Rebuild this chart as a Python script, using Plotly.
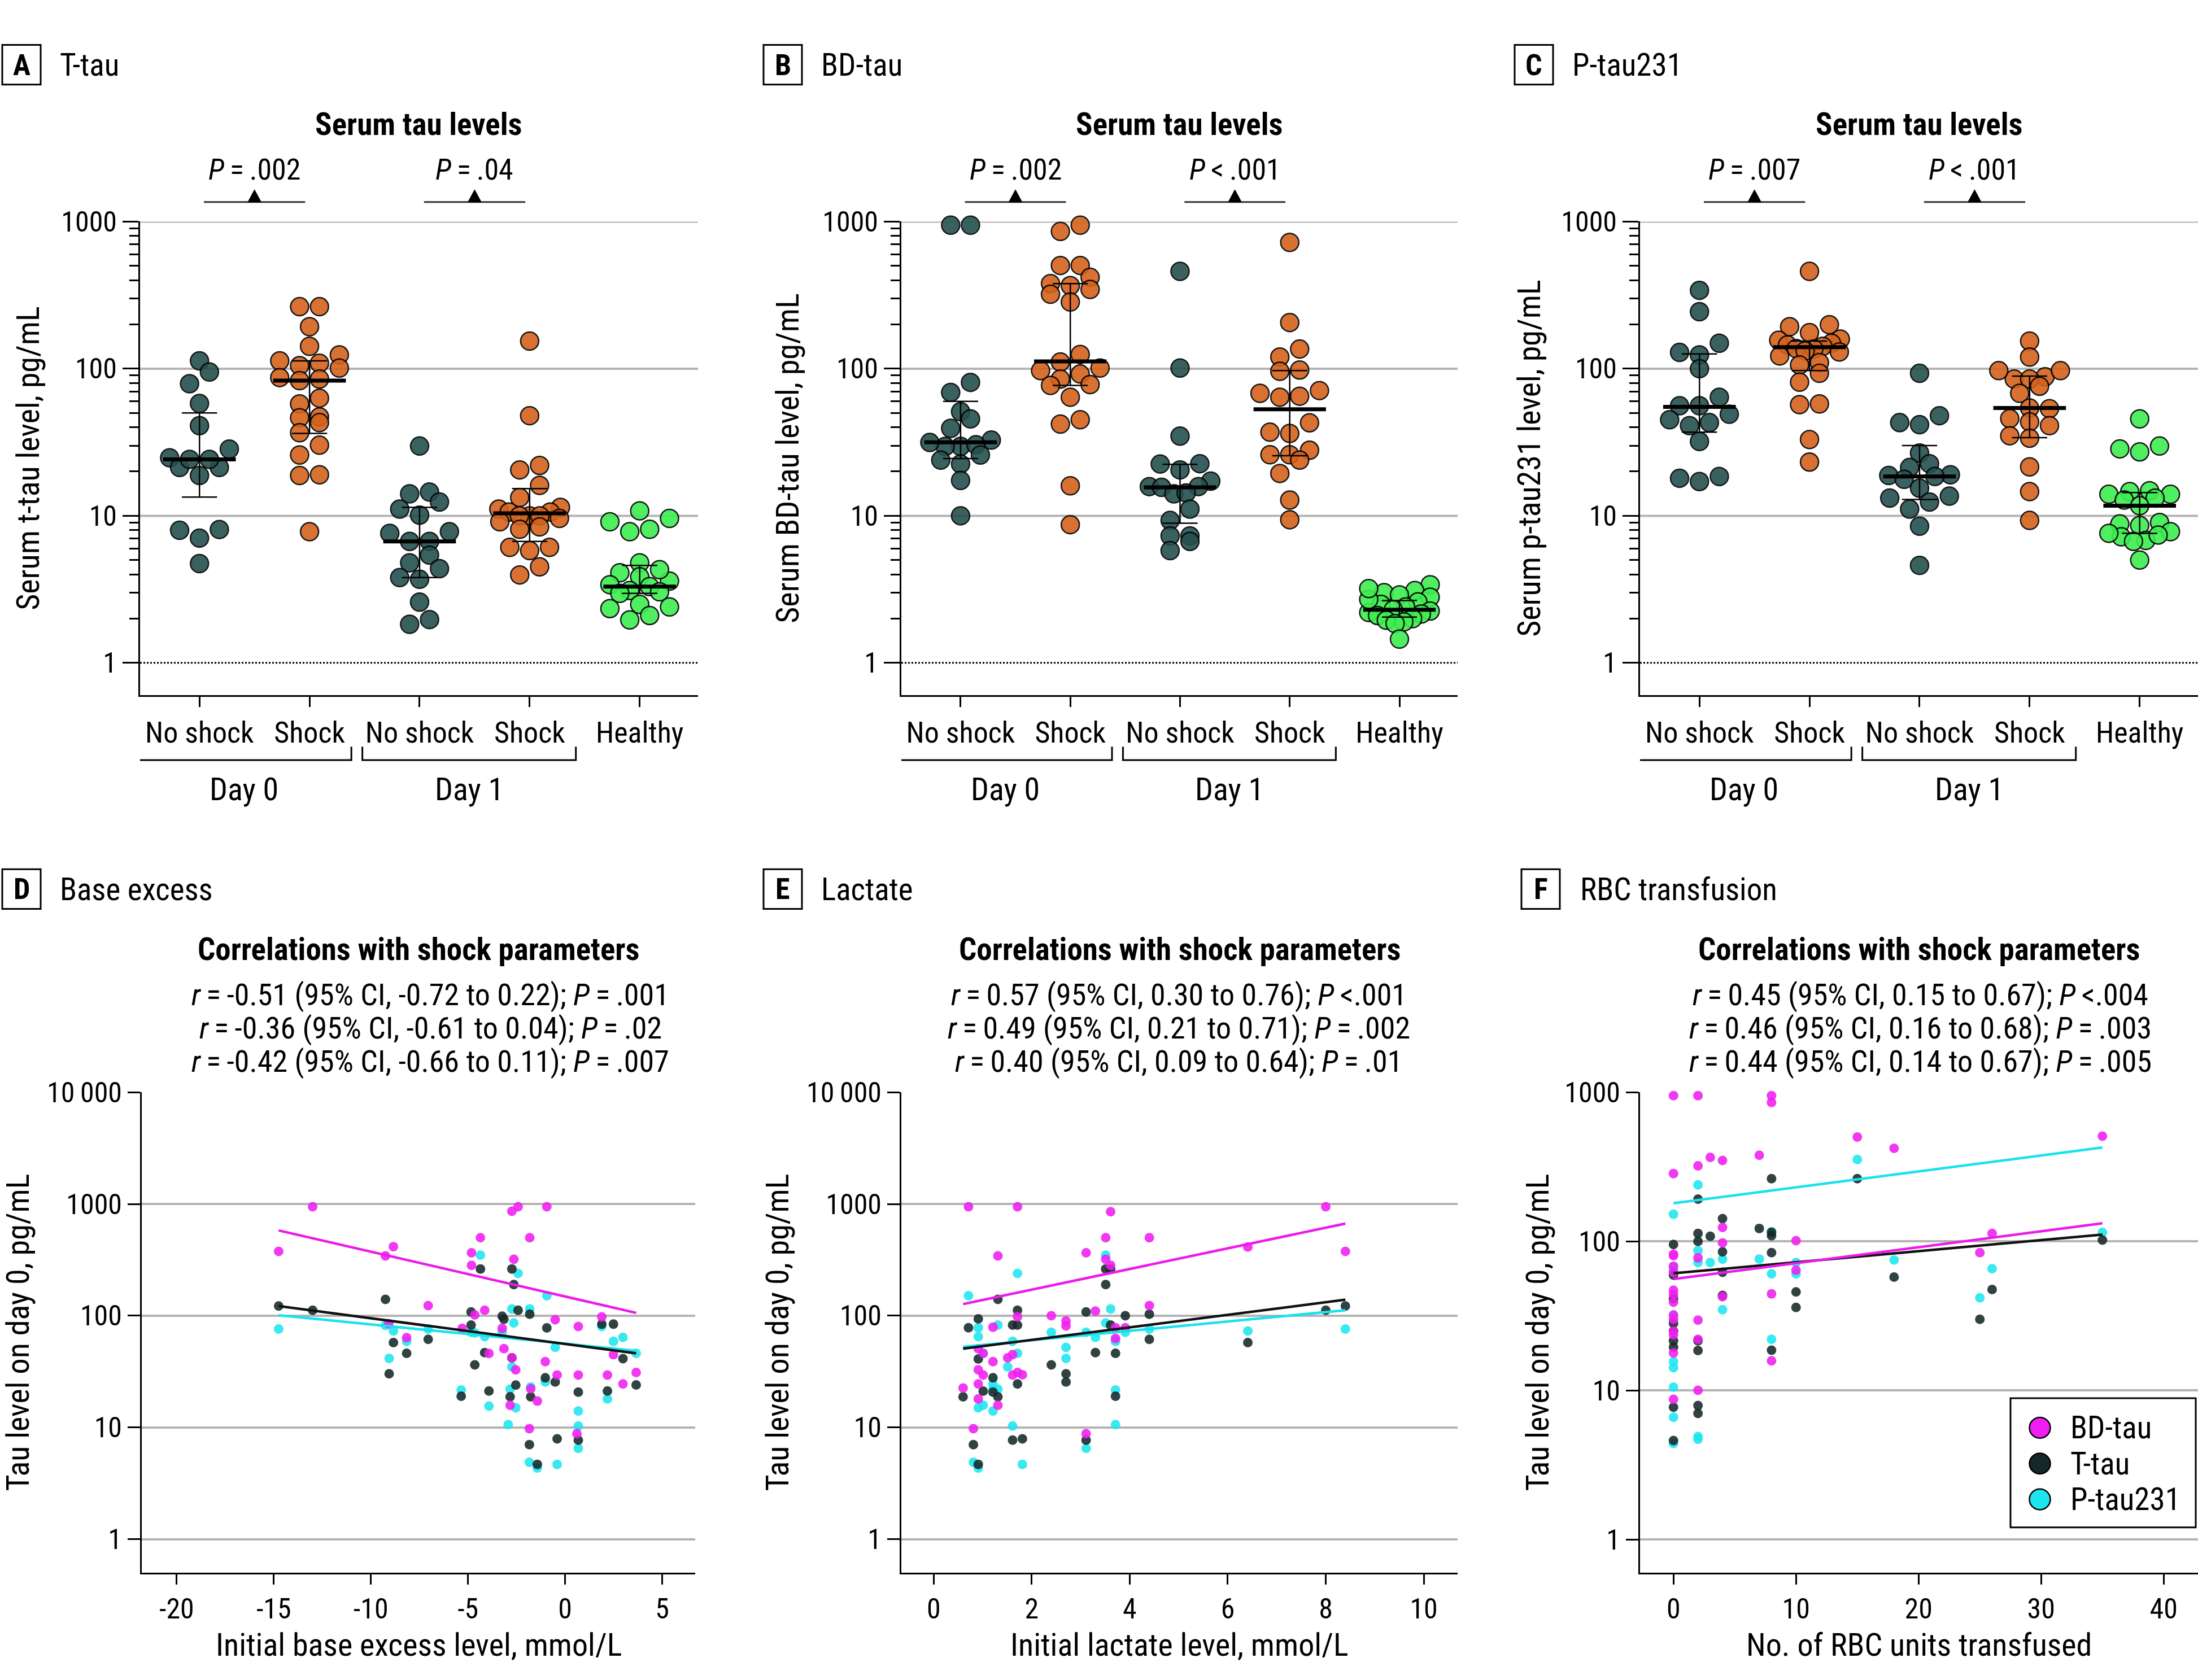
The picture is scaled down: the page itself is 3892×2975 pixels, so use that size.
import numpy as np
import plotly.graph_objects as go

W, H = 3892, 2975
FONT = "Liberation Sans Narrow, Arial Narrow, Roboto Condensed, DejaVu Sans Condensed, sans-serif"

# ---------------- data: top panels (serum tau levels) ----------------
categories = ["No shock", "Shock", "No shock", "Shock", "Healthy"]
day_labels = ["Day 0", "Day 1"]

# A  T-tau
a_d0_noshock = [113, 95, 79, 58, 41, 28.4, 24.8, 18.8, 21.3, 21.3, 24.2, 24.2, 8.07, 7.97, 7.05, 4.73]
a_d0_shock = [264, 264, 193, 142, 124, 113, 109, 105, 101, 87, 85, 83, 63, 57.6, 47, 46.4, 43, 36.7, 30.2, 25.9, 19, 18.8, 7.8]
a_d1_noshock = [29.8, 14.5, 14.1, 12.4, 11.1, 10.1, 7.8, 7.6, 6.7, 6.7, 5.4, 4.79, 4.37, 3.8, 3.7, 2.59, 1.97, 1.83]
a_d1_shock = [154, 47.9, 22, 20.5, 16.1, 13.3, 11.4, 11.1, 10.6, 10.6, 10, 10, 10, 9.6, 9.1, 8.4, 8.1, 6.1, 6.1, 5.8, 4.5, 3.96]
a_healthy = [10.8, 9.6, 9.1, 8.1, 7.8, 4.79, 4.1, 3.85, 3.6, 3.4, 3.3, 3.1, 3.04, 2.97, 2.5, 2.4, 2.34, 2.1, 1.96, 4.3]
a_median = [24.2, 83, 6.7, 10.4, 3.3]
a_q1 = [13.4, 36.3, 3.8, 6.7, 2.97]
a_q3 = [50, 113, 11.4, 15.3, 4.6]

# B  BD-tau
b_d0_noshock = [946, 946, 80.7, 69, 51, 45.6, 39.3, 32.7, 29.6, 29.6, 31.5, 30.4, 25.9, 22.5, 23.9, 17.4, 10]
b_d0_shock = [946, 858, 503, 503, 418, 367, 379, 321, 346, 284, 125, 111, 101, 97, 92, 85, 77, 78, 64, 42, 45, 16, 8.7]
b_d1_noshock = [459, 101, 34.8, 22.5, 22.6, 20.5, 17.2, 15.8, 15.8, 15.6, 14.1, 14.3, 11.1, 9.3, 7.3, 7.3, 6.7, 5.8]
b_d1_shock = [722, 206, 136, 120, 98, 96, 71, 68, 64, 65, 42.9, 36.3, 37, 27.9, 26, 26, 23.9, 19.4, 12.8, 9.4]
b_healthy = [3.4, 3.1, 3.0, 2.9, 2.8, 2.6, 2.5, 2.4, 2.3, 2.25, 2.2, 2.15, 2.1, 2.0, 1.95, 1.9, 1.85, 1.45, 2.7, 3.2]
b_median = [31.6, 112, 15.6, 53, 2.3]
b_q1 = [24.5, 77, 8.9, 25.6, 2.05]
b_q3 = [60, 379, 22.4, 97, 2.65]

# C  P-tau231
c_d0_noshock = [341, 244, 149, 129, 124, 100, 64, 56, 56, 49, 45, 41, 43, 32, 17.1, 18.5, 18]
c_d0_shock = [459, 199, 193, 176, 156, 159, 149, 145, 137, 142, 136, 122, 130, 132, 110, 106, 93, 81, 57, 57.6, 33, 23.2]
c_d1_noshock = [93, 47.9, 41.6, 43, 26.7, 22.6, 21.3, 19.0, 18.8, 17.7, 18.5, 15.4, 13.6, 13.2, 12.4, 11.1, 8.5, 4.6]
c_d1_shock = [154, 120, 85, 88, 97, 97, 85, 76, 68, 54, 53.5, 45.8, 43.5, 41, 35, 33.7, 21.5, 14.6, 9.3]
c_healthy = [45.6, 29.8, 28.5, 27.2, 14, 14, 14.6, 14.8, 13.2, 12.8, 11.7, 9.0, 8.6, 8.8, 6.8, 7.2, 6.7, 7.8, 7.4, 5.0, 7.6]
c_median = [55, 140, 18.5, 54, 11.7]
c_q1 = [37, 97, 12.9, 34, 7.6]
c_q3 = [126, 154, 30, 89, 14.4]

p_top_A = ["<i>P</i>\u2009=\u2009.002", "<i>P</i>\u2009=\u2009.04"]
p_top_B = ["<i>P</i>\u2009=\u2009.002", "<i>P</i>\u2009&lt;\u2009.001"]
p_top_C = ["<i>P</i>\u2009=\u2009.007", "<i>P</i>\u2009&lt;\u2009.001"]

# ---------------- data: bottom panels (correlations) ----------------
# D  base excess
d_bd_x = [-14.75, -13.0, -9.25, -8.84, -9.08, -8.16, -7.05, -5.3, -4.82, -4.82, -4.65, -4.36, -4.14, -3.92, -3.24, -3.15, -2.74, -2.64, -2.74, -2.54, -2.42, -2.83, -1.82, -1.77, -1.84, -1.43, -0.94, -1.02, -0.51, -0.41, 0.68, 0.68, 0.61, 1.89, 2.18, 2.49, 2.98, 3.66]
d_bd_y = [376, 944, 343, 415, 84.6, 63.6, 123, 77, 366, 282, 101.6, 499, 112, 45.9, 77, 50.7, 860, 320, 42, 32.8, 944, 15.8, 499, 22.2, 9.75, 17.2, 944, 38.8, 92, 29.4, 80, 29.4, 8.8, 97.5, 29.4, 44.8, 24.5, 31]
d_t_x = [-14.75, -13.0, -9.25, -8.84, -9.06, -8.16, -7.05, -5.35, -4.84, -4.84, -4.65, -4.36, -4.14, -3.92, -3.24, -3.15, -2.74, -2.64, -2.74, -2.54, -2.83, -2.42, -1.82, -1.77, -1.84, -1.43, -0.94, -1.02, -0.51, -0.41, 0.68, 0.68, 1.89, 2.18, 2.49, 2.98, 3.66]
d_t_y = [122, 112, 140, 57.5, 30.2, 46, 61.5, 19, 108, 82.5, 36.3, 262, 46.7, 21.2, 99, 93, 262, 190, 42, 23.9, 18.8, 112, 103, 18.8, 7, 4.67, 77.8, 27.8, 25.5, 7.9, 20.7, 7.7, 84, 21.2, 84, 41.2, 24]
d_p_x = [-14.75, -8.84, -9.25, -9.06, -8.16, -7.05, -5.35, -4.84, -4.65, -4.36, -4.14, -3.92, -3.24, -2.93, -2.74, -2.64, -2.74, -2.83, -2.54, -2.42, -1.82, -1.77, -1.84, -1.43, -0.94, -1.02, -0.51, -0.41, 0.68, 0.68, 0.68, 1.89, 2.18, 2.49, 2.98, 3.66]
d_p_y = [75.9, 73, 82, 41.5, 59, 75.9, 21.6, 71, 70, 348, 65, 15.5, 71, 10.6, 115, 86, 34.8, 22, 15, 239, 115, 23, 4.87, 4.33, 151, 25.5, 52, 4.67, 14, 10.3, 6.5, 80, 18, 59, 64, 46]
d_fit_x = [-14.75, 3.66]
d_fit_bd = [580, 106]
d_fit_t = [122, 46]
d_fit_p = [101, 48.6]

# E  lactate
e_bd_x = [0.71, 1.71, 8.0, 3.61, 3.51, 4.4, 6.41, 3.11, 8.4, 1.31, 3.51, 3.61, 3.3, 4.4, 2.4, 2.7, 2.7, 1.71, 1.21, 3.91, 3.71, 3.71, 0.91, 1.01, 1.61, 1.51, 1.21, 0.91, 1.01, 1.61, 1.71, 1.81, 0.6, 0.91, 0.91, 1.31, 0.81, 3.11]
e_bd_y = [944, 944, 944, 853, 499, 499, 412, 366, 376, 343, 320, 282, 110, 123, 100, 89.7, 81, 98, 79, 78, 78, 62.6, 50.7, 46, 44.9, 42, 38.8, 32.8, 29.4, 29.4, 31, 29.6, 22.5, 24.5, 18, 15.8, 9.75, 8.8]
e_t_x = [0.71, 0.6, 0.91, 0.91, 1.01, 1.21, 1.21, 1.31, 1.31, 0.81, 0.91, 1.61, 1.71, 1.71, 1.71, 1.61, 1.81, 2.4, 2.7, 2.7, 3.11, 3.11, 3.3, 3.51, 3.51, 3.61, 3.61, 3.71, 3.71, 3.91, 4.4, 4.4, 6.41, 8.0, 8.4]
e_t_y = [78, 18.8, 93.6, 41, 21.1, 27.8, 20.7, 140, 18.8, 7, 4.67, 82.5, 112, 82.5, 24.5, 7.7, 7.9, 36.3, 30.2, 25.5, 108, 7.7, 46.7, 262, 190, 262, 82.5, 46, 19, 100, 103, 61.5, 57.5, 112, 122]
e_p_x = [0.71, 0.91, 0.91, 1.01, 0.91, 1.01, 0.81, 0.91, 1.21, 1.21, 1.21, 1.31, 1.31, 1.51, 1.61, 1.61, 1.71, 1.71, 1.81, 2.4, 2.7, 2.7, 3.11, 3.11, 3.3, 3.51, 3.51, 3.61, 3.71, 3.71, 3.71, 3.91, 4.4, 6.41, 8.4]
e_p_y = [151, 78, 65, 46, 15, 15.8, 4.87, 4.33, 22, 14, 24.5, 82.5, 22, 34.8, 59, 10.3, 239, 46, 4.67, 71, 52, 41.5, 71, 6.5, 64, 348, 86, 115, 59, 21.6, 10.6, 71, 76, 73, 76]
e_fit_x = [0.6, 8.4]
e_fit_bd = [127, 668]
e_fit_t = [50.7, 139]
e_fit_p = [52.6, 112]

# F  RBC transfusion
f_bd_x = [0, 0, 0, 0, 0, 0, 0, 0, 0, 0, 0, 0, 0, 0, 0, 2, 2, 2, 2, 2, 2, 3, 4, 4, 4, 4, 7, 8, 8, 8, 8, 10, 10, 15, 18, 25, 26, 35]
f_bd_y = [950, 285, 82, 80, 68, 62, 47, 44, 39, 32, 30, 25, 23.6, 17.8, 8.7, 950, 321, 77.5, 29.6, 22, 10, 366, 349, 124, 97.5, 42.5, 378, 950, 855, 44.4, 15.8, 101, 64, 501, 421, 84, 113, 508]
f_t_x = [0, 0, 0, 0, 0, 0, 0, 0, 0, 2, 2, 2, 2, 2, 2, 2, 3, 4, 4, 4, 4, 7, 8, 8, 8, 8, 8, 10, 10, 15, 18, 25, 26, 35]
f_t_y = [95.3, 59.4, 41.2, 28.2, 25, 21.5, 19.5, 7.7, 4.6, 192, 113, 100, 21.5, 18.5, 7.9, 7.0, 108, 142, 85, 62, 43.3, 122, 263, 115, 109, 84, 18.6, 45.8, 36, 263, 57.5, 30, 47.5, 102]
f_p_x = [0, 0, 0, 0, 0, 0, 0, 0, 0, 2, 2, 2, 2, 2, 3, 4, 4, 7, 8, 8, 8, 10, 10, 15, 18, 25, 26, 35]
f_p_y = [152, 68, 64, 32, 15.6, 14.2, 10.5, 6.6, 4.4, 239, 86.7, 72, 4.9, 4.7, 72, 76, 34.8, 76, 116, 60.5, 22, 72, 60.5, 354, 75, 41.8, 65.4, 115]
f_fit_x = [0, 35]
f_fit_bd = [55.8, 132]
f_fit_t = [61, 111]
f_fit_p = [180, 426]

r_lines_D = ["<i>r</i>\u2009=\u2009-0.51 (95% CI, -0.72 to 0.22); <i>P</i>\u2009=\u2009.001",
             "<i>r</i>\u2009=\u2009-0.36 (95% CI, -0.61 to 0.04); <i>P</i>\u2009=\u2009.02",
             "<i>r</i>\u2009=\u2009-0.42 (95% CI, -0.66 to 0.11); <i>P</i>\u2009=\u2009.007"]
r_lines_E = ["<i>r</i>\u2009=\u20090.57 (95% CI, 0.30 to 0.76); <i>P</i>\u2009&lt;.001",
             "<i>r</i>\u2009=\u20090.49 (95% CI, 0.21 to 0.71); <i>P</i>\u2009=\u2009.002",
             "<i>r</i>\u2009=\u20090.40 (95% CI, 0.09 to 0.64); <i>P</i>\u2009=\u2009.01"]
r_lines_F = ["<i>r</i>\u2009=\u20090.45 (95% CI, 0.15 to 0.67); <i>P</i>\u2009&lt;.004",
             "<i>r</i>\u2009=\u20090.46 (95% CI, 0.16 to 0.68); <i>P</i>\u2009=\u2009.003",
             "<i>r</i>\u2009=\u20090.44 (95% CI, 0.14 to 0.67); <i>P</i>\u2009=\u2009.005"]

# ---------------- styling ----------------
TEAL = "#24504e"
ORANGE = "#d4621c"
GREEN = "#3eee50"
MAG = "#f01ef0"
DARK = "#152828"
CYAN = "#1ee6f0"
GRID = "#b4b4b4"
group_colors = [TEAL, ORANGE, TEAL, ORANGE, GREEN]

FS_TICK = 50
FS_CAT = 52
FS_TITLE = 56
FS_BOLD = 55
FS_PANEL = 55
FS_R = 54


def px_x(p):
    return p / W


def px_y(p):
    return 1 - p / H


top_dom_y = [px_y(1214), px_y(367)]
bot_dom_y = [px_y(2783), px_y(1924)]
top_dom_x = [[px_x(248), px_x(1236)], [px_x(1596), px_x(2581)], [px_x(2904), px_x(3892)]]
bot_dom_x = [[px_x(251), px_x(1231)], [px_x(1596), px_x(2581)], [px_x(2904), px_x(3892)]]

TOP_XR = [-0.54, 4.53]
CAT_PX = (1236 - 248) / (TOP_XR[1] - TOP_XR[0])
DEC_PX = (1214 - 367) / 3.22
DIAM = 32.0


def swarm(vals, center):
    """Prism-like row layout: bin points into rows, spread each row symmetrically."""
    vals = np.asarray(vals, dtype=float)
    ypx = np.log10(vals) * DEC_PX
    order = list(np.argsort(ypx))
    rows, cur, start = [], [order[0]], ypx[order[0]]
    for i in order[1:]:
        if ypx[i] - start < 0.75 * DIAM:
            cur.append(i)
        else:
            rows.append(cur)
            cur, start = [i], ypx[i]
    rows.append(cur)
    xs = np.zeros(len(vals))
    maxw = 0.56 * CAT_PX
    for row in rows:
        n = len(row)
        sp = DIAM * 1.1
        if n > 1 and (n - 1) * sp > maxw:
            sp = maxw / (n - 1)
        slots = sorted(range(n), key=lambda k: abs(k - (n - 1) / 2))
        for k, i in zip(slots, row):
            xs[i] = center + (k - (n - 1) / 2) * sp / CAT_PX
    return xs


fig = go.Figure()
shapes = []
annos = []

top_panels = [
    ("A", "T-tau", "Serum t-tau level, pg/mL",
     [a_d0_noshock, a_d0_shock, a_d1_noshock, a_d1_shock, a_healthy], a_median, a_q1, a_q3, p_top_A),
    ("B", "BD-tau", "Serum BD-tau level, pg/mL",
     [b_d0_noshock, b_d0_shock, b_d1_noshock, b_d1_shock, b_healthy], b_median, b_q1, b_q3, p_top_B),
    ("C", "P-tau231", "Serum p-tau231 level, pg/mL",
     [c_d0_noshock, c_d0_shock, c_d1_noshock, c_d1_shock, c_healthy], c_median, c_q1, c_q3, p_top_C),
]
letter_box_x = [(4, 72), (1352, 1420), (2682, 2750)]
title_left = [104, 1452, 2782]
ytitle_x = [50, 1395, 2708]
letter_box_x_bot = [(4, 72), (1352, 1420), (2694, 2762)]
title_left_bot = [104, 1452, 2796]
ytitle_x_bot = [32, 1377, 2723]

minor_vals = [v * m for v in (1, 10, 100) for m in range(2, 10)]

for pi, (letter, name, ytitle, groups, med, q1, q3, ptxt) in enumerate(top_panels):
    n = pi + 1
    xa = "x" if n == 1 else f"x{n}"
    ya = "y" if n == 1 else f"y{n}"
    for gv in (10, 100, 1000):
        fig.add_trace(go.Scatter(x=TOP_XR, y=[gv, gv], mode="lines", line=dict(color=GRID, width=4),
                                 xaxis=xa, yaxis=ya, showlegend=False, hoverinfo="skip"))
    fig.add_trace(go.Scatter(x=TOP_XR, y=[1, 1], mode="lines", line=dict(color="black", width=3, dash="dot"),
                             xaxis=xa, yaxis=ya, showlegend=False, hoverinfo="skip"))
    for gi, vals in enumerate(groups):
        fig.add_trace(go.Scatter(x=swarm(vals, gi), y=vals, mode="markers", cliponaxis=False,
                                 marker=dict(size=DIAM, color=group_colors[gi], opacity=0.9,
                                             line=dict(color="black", width=2.5)),
                                 xaxis=xa, yaxis=ya, showlegend=False, hoverinfo="skip"))
    ix, iy, mx, my = [], [], [], []
    for gi in range(5):
        ix += [gi, gi, None, gi - 0.16, gi + 0.16, None, gi - 0.16, gi + 0.16, None]
        iy += [q1[gi], q3[gi], None, q1[gi], q1[gi], None, q3[gi], q3[gi], None]
        mx += [gi - 0.33, gi + 0.33, None]
        my += [med[gi], med[gi], None]
    fig.add_trace(go.Scatter(x=ix, y=iy, mode="lines", line=dict(color="black", width=2.5),
                             xaxis=xa, yaxis=ya, showlegend=False, hoverinfo="skip"))
    fig.add_trace(go.Scatter(x=mx, y=my, mode="lines", line=dict(color="black", width=7),
                             xaxis=xa, yaxis=ya, showlegend=False, hoverinfo="skip"))

    axx = dict(domain=top_dom_x[pi], anchor=ya, range=TOP_XR, tickmode="array", tickvals=[0, 1, 2, 3, 4],
               ticktext=categories, ticks="outside", ticklen=18, tickwidth=3, tickcolor="black",
               showline=True, linewidth=3, linecolor="black", showgrid=False, zeroline=False,
               tickfont=dict(family=FONT, size=FS_CAT, color="black"))
    axy = dict(domain=top_dom_y, anchor=xa, type="log", range=[-0.22, 3], tickmode="array",
               tickvals=[1, 10, 100, 1000], ticktext=["1", "10", "100", "1000"],
               ticks="outside", ticklen=28, tickwidth=3, tickcolor="black",
               minor=dict(tickmode="array", tickvals=minor_vals, ticks="outside", ticklen=16,
                          tickwidth=2.5, tickcolor="black", showgrid=False),
               showline=True, linewidth=3, linecolor="black", showgrid=False, zeroline=False,
               tickfont=dict(family=FONT, size=FS_TICK, color="black"))
    fig.update_layout(**{("xaxis" if n == 1 else f"xaxis{n}"): axx, ("yaxis" if n == 1 else f"yaxis{n}"): axy})

    bx0, bx1 = letter_box_x[pi]
    shapes.append(dict(type="rect", xref="paper", yref="paper", x0=px_x(bx0), x1=px_x(bx1),
                       y0=px_y(122), y1=px_y(51), line=dict(color="black", width=3)))
    annos.append(dict(text=f"<b>{letter}</b>", x=px_x((bx0 + bx1) / 2), y=px_y(87), xref="paper", yref="paper",
                      showarrow=False, xanchor="center", yanchor="middle", font=dict(family=FONT, size=52)))
    annos.append(dict(text=name, x=px_x(title_left[pi]), y=px_y(87), xref="paper", yref="paper",
                      showarrow=False, xanchor="left", yanchor="middle", font=dict(family=FONT, size=FS_PANEL)))
    cx = (top_dom_x[pi][0] + top_dom_x[pi][1]) / 2
    annos.append(dict(text="<b>Serum tau levels</b>", x=cx, y=px_y(193), xref="paper", yref="paper",
                      showarrow=False, xanchor="center", yanchor="middle", font=dict(family=FONT, size=FS_BOLD)))
    annos.append(dict(text=ytitle, x=px_x(ytitle_x[pi]), y=(top_dom_y[0] + top_dom_y[1]) / 2, xref="paper",
                      yref="paper", textangle=-90, showarrow=False, xanchor="center", yanchor="middle",
                      font=dict(family=FONT, size=FS_TITLE)))
    for k, c in enumerate((0.5, 2.5)):
        yl = px_y(332)
        shapes.append(dict(type="line", xref=xa, yref="paper", x0=c - 0.46, x1=c + 0.46, y0=yl, y1=yl,
                           line=dict(color="#333333", width=3)))
        tri = f"M {c - 0.06} {yl} L {c + 0.06} {yl} L {c} {yl + 22 / H} Z"
        shapes.append(dict(type="path", xref=xa, yref="paper", path=tri, fillcolor="black",
                           line=dict(color="black", width=1)))
        annos.append(dict(text=ptxt[k], x=c, y=px_y(274), xref=xa, yref="paper", showarrow=False,
                          xanchor="center", yanchor="middle", font=dict(family=FONT, size=52)))
    yb, yt = px_y(1330), px_y(1306)
    for (l, r), dl in zip(((-0.57, 1.38), (1.48, 3.42)), day_labels):
        shapes.append(dict(type="path", xref=xa, yref="paper",
                           path=f"M {l} {yt} L {l} {yb} L {r} {yb} L {r} {yt}",
                           line=dict(color="black", width=3)))
        annos.append(dict(text=dl, x=(l + r) / 2, y=px_y(1382), xref=xa, yref="paper", showarrow=False,
                          xanchor="center", yanchor="middle", font=dict(family=FONT, size=FS_TITLE)))

bottom_panels = [
    ("D", "Base excess", "Initial base excess level, mmol/L", [-21.8, 6.7], [-20, -15, -10, -5, 0, 5],
     ["-20", "-15", "-10", "-5", "0", "5"], [-0.3, 4],
     (d_bd_x, d_bd_y), (d_t_x, d_t_y), (d_p_x, d_p_y), d_fit_x, d_fit_bd, d_fit_t, d_fit_p, r_lines_D, 762),
    ("E", "Lactate", "Initial lactate level, mmol/L", [-0.66, 10.69], [0, 2, 4, 6, 8, 10],
     ["0", "2", "4", "6", "8", "10"], [-0.3, 4],
     (e_bd_x, e_bd_y), (e_t_x, e_t_y), (e_p_x, e_p_y), e_fit_x, e_fit_bd, e_fit_t, e_fit_p, r_lines_E, 2087),
    ("F", "RBC transfusion", "No. of RBC units transfused", [-2.73, 42.8], [0, 10, 20, 30, 40],
     ["0", "10", "20", "30", "40"], [-0.223, 3],
     (f_bd_x, f_bd_y), (f_t_x, f_t_y), (f_p_x, f_p_y), f_fit_x, f_fit_bd, f_fit_t, f_fit_p, r_lines_F, 3400),
]

for pi, (letter, name, xtitle, xr, xt, xtt, yr, bd, tt, pt, fx, fbd, ft, fp, rl, rcx) in enumerate(bottom_panels):
    n = pi + 4
    xa, ya = f"x{n}", f"y{n}"
    for (xs, ys), col in ((pt, CYAN), (tt, DARK), (bd, MAG)):
        fig.add_trace(go.Scatter(x=xs, y=ys, mode="markers", cliponaxis=False,
                                 marker=dict(size=17, color=col, opacity=0.88, line=dict(width=0)),
                                 xaxis=xa, yaxis=ya, showlegend=False, hoverinfo="skip"))
    for ys, col in ((fp, "#18e2ee"), (ft, "#111111"), (fbd, "#ec1aec")):
        fig.add_trace(go.Scatter(x=fx, y=ys, mode="lines", line=dict(color=col, width=4.5),
                                 xaxis=xa, yaxis=ya, showlegend=False, hoverinfo="skip"))
    top = int(round(yr[1]))
    yt_vals = [10 ** k for k in range(0, top + 1)]
    yt_text = [("10\u2009000" if v == 10000 else str(v)) for v in yt_vals]
    axx = dict(domain=bot_dom_x[pi], anchor=ya, range=xr, tickmode="array", tickvals=xt, ticktext=xtt,
               ticks="outside", ticklen=18, tickwidth=3, tickcolor="black",
               showline=True, linewidth=3, linecolor="black", showgrid=False, zeroline=False,
               tickfont=dict(family=FONT, size=FS_TICK, color="black"))
    axy = dict(domain=bot_dom_y, anchor=xa, type="log", range=yr, tickmode="array",
               tickvals=yt_vals, ticktext=yt_text, ticks="outside", ticklen=22, tickwidth=3, tickcolor="black",
               showline=True, linewidth=3, linecolor="black", showgrid=True, gridcolor=GRID, gridwidth=4,
               zeroline=False, tickfont=dict(family=FONT, size=FS_TICK, color="black"))
    fig.update_layout(**{f"xaxis{n}": axx, f"yaxis{n}": axy})

    bx0, bx1 = letter_box_x_bot[pi]
    shapes.append(dict(type="rect", xref="paper", yref="paper", x0=px_x(bx0), x1=px_x(bx1),
                       y0=px_y(1596), y1=px_y(1525), line=dict(color="black", width=3)))
    annos.append(dict(text=f"<b>{letter}</b>", x=px_x((bx0 + bx1) / 2), y=px_y(1561), xref="paper", yref="paper",
                      showarrow=False, xanchor="center", yanchor="middle", font=dict(family=FONT, size=52)))
    annos.append(dict(text=name, x=px_x(title_left_bot[pi]), y=px_y(1561), xref="paper", yref="paper",
                      showarrow=False, xanchor="left", yanchor="middle", font=dict(family=FONT, size=FS_PANEL)))
    cx = (bot_dom_x[pi][0] + bot_dom_x[pi][1]) / 2
    annos.append(dict(text="<b>Correlations with shock parameters</b>", x=cx, y=px_y(1668), xref="paper",
                      yref="paper", showarrow=False, xanchor="center", yanchor="middle",
                      font=dict(family=FONT, size=FS_BOLD)))
    for k, (line_txt, yy) in enumerate(zip(rl, (1750, 1809, 1869))):
        annos.append(dict(text=line_txt, x=px_x(rcx), y=px_y(yy), xref="paper", yref="paper", showarrow=False,
                          xanchor="center", yanchor="middle", font=dict(family=FONT, size=FS_R)))
    annos.append(dict(text="Tau level on day 0, pg/mL", x=px_x(ytitle_x_bot[pi]), y=(bot_dom_y[0] + bot_dom_y[1]) / 2,
                      xref="paper", yref="paper", textangle=-90, showarrow=False, xanchor="center",
                      yanchor="middle", font=dict(family=FONT, size=FS_TITLE)))
    annos.append(dict(text=xtitle, x=cx, y=px_y(2912), xref="paper", yref="paper", showarrow=False,
                      xanchor="center", yanchor="middle", font=dict(family=FONT, size=FS_TITLE)))

# manual legend in panel F
legend_items = ["BD-tau", "T-tau", "P-tau231"]
legend_cols = [MAG, DARK, CYAN]
shapes.append(dict(type="rect", xref="paper", yref="paper", x0=px_x(3560), x1=px_x(3888),
                   y0=px_y(2702), y1=px_y(2471), line=dict(color="black", width=3), fillcolor="white"))
for txt, col, yy in zip(legend_items, legend_cols, (2524, 2588, 2652)):
    r = 18.5
    shapes.append(dict(type="circle", xref="paper", yref="paper", x0=px_x(3612 - r), x1=px_x(3612 + r),
                       y0=px_y(yy + r), y1=px_y(yy - r), fillcolor=col, line=dict(color="black", width=2.5)))
    annos.append(dict(text=txt, x=px_x(3664), y=px_y(yy), xref="paper", yref="paper", showarrow=False,
                      xanchor="left", yanchor="middle", font=dict(family=FONT, size=FS_PANEL)))

fig.update_layout(width=W, height=H, margin=dict(l=0, r=0, t=0, b=0), autosize=False,
                  paper_bgcolor="white", plot_bgcolor="white", showlegend=False,
                  font=dict(family=FONT, size=48, color="black"),
                  shapes=shapes, annotations=annos)

fig.write_html("out.html")
